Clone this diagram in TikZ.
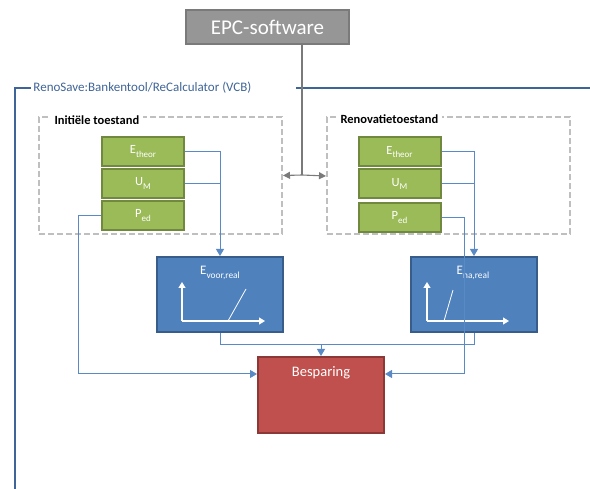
\documentclass[tikz,border=0pt]{standalone}
\usepackage{fontspec}
\setmainfont{Carlito}
\usetikzlibrary{arrows.meta, positioning, calc}
\definecolor{cgreen}{HTML}{9BBB59}
\definecolor{cgreenb}{HTML}{71893F}
\definecolor{cblue}{HTML}{4F81BD}
\definecolor{cblueb}{HTML}{385D8A}
\definecolor{cred}{HTML}{C0504D}
\definecolor{credb}{HTML}{8C3836}
\definecolor{cgrey}{HTML}{969696}
\definecolor{cgreyb}{HTML}{7A7A7A}
\definecolor{cdash}{HTML}{BFBFBF}
\definecolor{cframe}{HTML}{3F6497}
\definecolor{cwire}{HTML}{5A8AC6}
\newcommand{\sub}[1]{\raisebox{-0.3em}{\fontsize{0.72em}{1em}\selectfont #1}}
\tikzset{
  every picture/.style={line width=1pt},
  box/.style={draw=#1b, fill=#1, line width=2pt, text=white, align=center, inner sep=0pt},
  param/.style={box=cgreen, minimum width=82pt, minimum height=29pt, font=\fontsize{12.5}{14}\selectfont},
  curve/.style={box=cblue, minimum width=126pt, minimum height=75pt},
  result/.style={box=cred, minimum width=126pt, minimum height=76pt},
  state/.style={draw=cdash, dashed, dash pattern=on 6pt off 3pt, line width=2pt, minimum width=243pt, minimum height=117pt},
  statetitle/.style={fill=white, inner xsep=4pt, inner ysep=1pt, anchor=west, font=\bfseries\fontsize{12.5}{14}\selectfont},
  wire/.style={draw=cwire, line width=1pt},
  flow/.style={wire, -{Triangle[length=7pt, width=8pt]}},
  gline/.style={draw=cgreyb, line width=1.1pt},
  garrow/.style={gline, -{Triangle[length=7pt, width=7pt]}},
  axis/.style={draw=white, line width=1.2pt, -{Triangle[length=6pt, width=7pt]}},
}
\begin{document}
\begin{tikzpicture}[x=1pt, y=-1pt]
  \useasboundingbox (0,0) rectangle (590,489);

  % software and frame
  \node[box=cgrey, minimum width=163pt, minimum height=34pt, font=\fontsize{21}{25}\selectfont] (epc) at (267.5,27) {EPC-software};
  \node[anchor=west, text=cframe, inner sep=2pt, font=\fontsize{13}{15}\selectfont] (tool) at (31,88) {RenoSave:Bankentool/ReCalculator (VCB)};
  \draw[cframe, line width=2pt] (15,489) -- (15,88) -- (tool.west);
  \draw[cframe, line width=2pt] ([xshift=42pt]tool.east) -- (590,88);

  % states
  \node[state] (init) at (160.5,175.5) {};
  \node[statetitle] (initt) at (50,120) {Initiële toestand};
  \node[state] (reno) at (448.5,176) {};
  \node[statetitle] (renot) at (336,119) {Renovatietoestand};

  % parameters
  \node[param] (etheorL) at (143,151.5) {E\sub{theor}};
  \node[param] (umL)     at (143,183.5) {U\sub{M}};
  \node[param] (pedL)    at (143,215.5) {P\sub{ed}};
  \node[param] (etheorR) at (399.5,152) {E\sub{theor}};
  \node[param] (umR)     at (399.5,184) {U\sub{M}};
  \node[param] (pedR)    at (399.5,217.5) {P\sub{ed}};

  % real consumption
  \node[curve] (evoor) at (220,294.5) {};
  \node[text=white, font=\fontsize{13}{15}\selectfont] (evoort) at (220,273) {E\sub{voor,real}};
  \node[curve] (ena) at (474,294.5) {};
  \node[text=white, font=\fontsize{13}{15}\selectfont] (enat) at (473,273) {E\sub{na,real}};
  \draw[axis] ([shift={(-38,26.5)}]evoor.center) -- ([shift={(-38,-12.5)}]evoor.center);
  \draw[axis] ([shift={(-38,26.5)}]evoor.center) -- ([shift={(45,26.5)}]evoor.center);
  \draw[white, line width=0.8pt] ([shift={(8,26.5)}]evoor.center) -- ([shift={(26,-5.5)}]evoor.center);
  \draw[axis] ([shift={(-47,26.5)}]ena.center) -- ([shift={(-47,-12.5)}]ena.center);
  \draw[axis] ([shift={(-47,26.5)}]ena.center) -- ([shift={(35,26.5)}]ena.center);
  \draw[white, line width=0.8pt] ([shift={(-30,26.5)}]ena.center) -- ([shift={(-21,-4.5)}]ena.center);

  % saving
  \node[result] (besp) at (321,395) {};
  \node[text=white, font=\fontsize{14.5}{17}\selectfont] (bespt) at (321,373) {Besparing};

  % software link
  \coordinate (hub) at (302,175);
  \draw[gline] (hub |- epc.south) -- (hub);
  \draw[garrow] (hub) -- (init.east);
  \draw[garrow] (hub) -- (reno.west);

  % initial state
  \draw[flow] (etheorL.east) -| (evoor.north);
  \draw[wire] (umL.east) -- (umL.east -| evoor.north);
  \draw[flow] (pedL.west) -- ++(-23,0) |- ([yshift=21pt]besp.west);

  % renovation state
  \draw[flow] (etheorR.east) -| (ena.north);
  \draw[wire] (umR.east) -- (umR.east -| ena.north);
  \draw[flow] (pedR.east) -- ++(23,0) |- ([yshift=21pt]besp.east);

  % saving inputs
  \coordinate (join) at ([yshift=11pt]besp.north);
  \draw[wire] (evoor.south) |- (join);
  \draw[wire] (ena.south) |- (join);
  \draw[flow] (join) -- (besp.north);
\end{tikzpicture}
\end{document}
